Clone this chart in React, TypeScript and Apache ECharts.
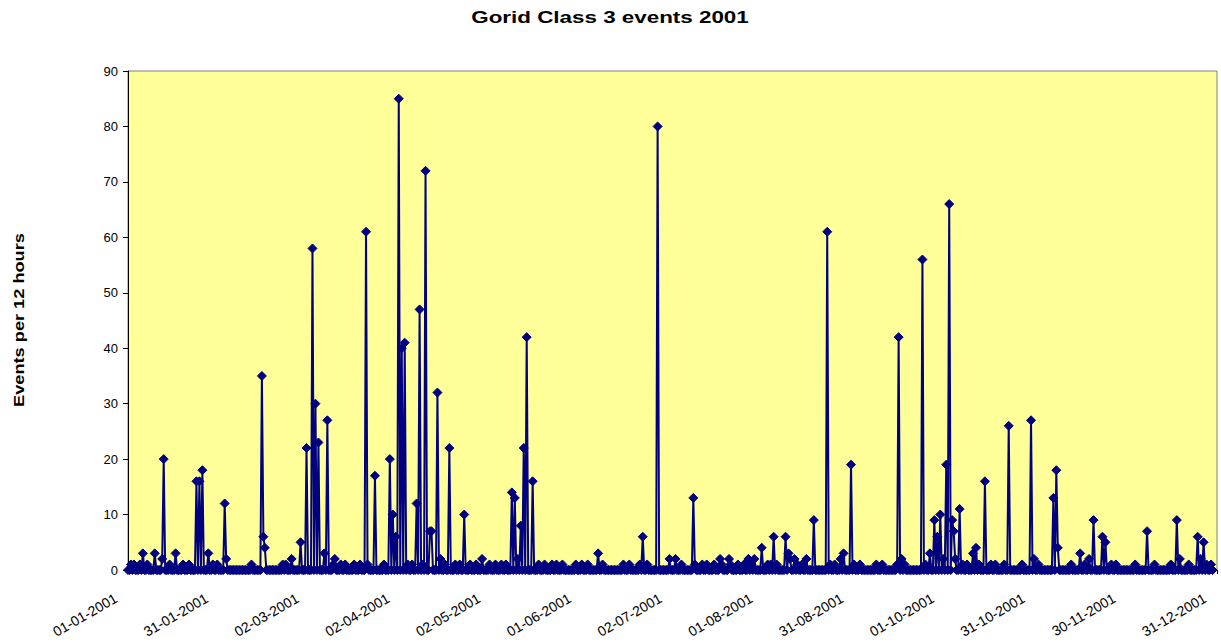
import React, { useEffect, useRef } from "react";
import * as echarts from "echarts";

// Number of 12-hour periods in 2001 (x axis index 0..729)
const periodCount = 730;

const chartTitle = "Gorid Class 3 events 2001";
const yAxisName = "Events per 12 hours";

// Tick labels of the x axis (one every 61 half-day periods)
const tickLabels = [
  "01-01-2001", "31-01-2001", "02-03-2001", "02-04-2001", "02-05-2001",
  "01-06-2001", "02-07-2001", "01-08-2001", "31-08-2001", "01-10-2001",
  "31-10-2001", "30-11-2001", "31-12-2001",
];

// Periods with more than one event: [period index, events]
const peaks: [number, number][] = [
  [10, 3], [18, 3], [23, 2], [24, 20], [32, 3], [46, 16], [48, 16], [50, 18],
  [54, 3], [65, 12], [66, 2], [90, 35], [91, 6], [92, 4], [110, 2], [116, 5],
  [120, 22], [124, 58], [126, 30], [128, 23], [132, 3], [134, 27], [139, 2],
  [160, 61], [166, 17], [176, 20], [178, 10], [180, 6], [182, 85], [184, 40],
  [186, 41], [194, 12], [196, 47], [200, 72], [203, 7], [204, 7], [208, 32],
  [210, 2], [216, 22], [226, 10], [238, 2], [258, 14], [260, 13], [262, 2],
  [264, 8], [266, 22], [268, 42], [272, 16], [316, 3], [346, 6], [356, 80],
  [364, 2], [368, 2], [380, 13], [398, 2], [404, 2], [417, 2], [421, 2],
  [426, 4], [434, 6], [442, 6], [444, 3], [445, 2], [448, 2], [456, 2],
  [461, 9], [470, 61], [479, 2], [481, 3], [486, 19], [518, 42], [520, 2],
  [534, 56], [539, 3], [542, 9], [544, 6], [546, 10], [548, 2], [550, 19],
  [552, 66], [554, 9], [555, 7], [556, 2], [559, 11], [568, 3], [570, 4],
  [576, 16], [592, 26], [607, 27], [609, 2], [622, 13], [624, 18], [625, 4],
  [640, 3], [646, 2], [649, 9], [655, 6], [657, 5], [685, 7], [705, 9],
  [707, 2], [719, 6], [721, 2], [723, 5],
];

// Periods with exactly one event
const singles: number[] = [
  2, 4, 8, 13, 28, 37, 41, 57, 60, 83, 104, 106, 138, 143, 146, 152, 156, 161,
  172, 188, 191, 198, 213, 220, 223, 230, 234, 243, 247, 251, 254, 276, 280,
  285, 288, 292, 301, 305, 309, 319, 333, 337, 344, 349, 372, 381, 386, 389,
  394, 399, 405, 410, 414, 419, 430, 432, 436, 450, 453, 472, 475, 488, 492,
  503, 507, 517, 522, 536, 561, 564, 572, 580, 583, 589, 601, 612, 634, 643,
  661, 664, 677, 690, 701, 713, 725, 728,
];

const yTicks = { min: 0, max: 90, interval: 10 };

export default function App() {
  const ref = useRef<HTMLDivElement>(null);

  useEffect(() => {
    if (!ref.current) return;
    const chart = echarts.init(ref.current, undefined, { renderer: "svg" });

    const values: number[] = new Array(periodCount).fill(0);
    singles.forEach((i) => (values[i] = 1));
    peaks.forEach(([i, v]) => (values[i] = v));
    const data = values.map((v, i) => [i, v]);

    const navy = "#000080";
    const font = "Liberation Sans, Arial, sans-serif";

    chart.setOption({
      animation: false,
      backgroundColor: "#ffffff",
      graphic: [
        {
          type: "text",
          x: 610,
          y: 17,
          scaleX: 1.4,
          style: {
            text: chartTitle,
            font: `bold 16px ${font}`,
            fill: "#000000",
            textAlign: "center",
            textVerticalAlign: "middle",
          },
        },
        {
          type: "text",
          x: 19,
          y: 320,
          rotation: Math.PI / 2,
          scaleX: 1.3,
          style: {
            text: yAxisName,
            font: `bold 14px ${font}`,
            fill: "#000000",
            textAlign: "center",
            textVerticalAlign: "middle",
          },
        },
      ],
      grid: {
        left: 128,
        right: 4,
        top: 71,
        bottom: 72,
        show: true,
        backgroundColor: "#FFFF99",
        borderColor: "#808080",
        borderWidth: 1,
      },
      xAxis: {
        type: "value",
        min: 0,
        max: 732,
        interval: 61,
        axisLine: { show: true, lineStyle: { color: "#000000", width: 1 } },
        axisTick: { show: true, length: 4, lineStyle: { color: "#000000" } },
        splitLine: { show: false },
        axisLabel: {
          rotate: 30,
          margin: 20,
          padding: [0, 14, 0, 0],
          fontFamily: font,
          fontSize: 14,
          color: "#000000",
          showMaxLabel: true,
          showMinLabel: true,
          formatter: (v: number) => tickLabels[Math.round(v / 61)] ?? "",
        },
      },
      yAxis: {
        type: "value",
        min: yTicks.min,
        max: yTicks.max,
        interval: yTicks.interval,
        axisLine: { show: true, lineStyle: { color: "#000000", width: 1 } },
        axisTick: { show: true, length: 5, lineStyle: { color: "#000000" } },
        splitLine: { show: false },
        axisLabel: {
          margin: 10,
          fontFamily: font,
          fontSize: 13,
          color: "#000000",
        },
      },
      series: [
        {
          type: "line",
          data,
          symbol: "diamond",
          symbolSize: 9,
          showAllSymbol: true,
          lineStyle: { color: navy, width: 2 },
          itemStyle: { color: navy, borderColor: navy },
          emphasis: { disabled: true },
          z: 3,
        },
      ],
    });

    return () => chart.dispose();
  }, []);

  return (
    <div
      ref={ref}
      style={{ position: "fixed", left: 0, top: 0, width: 1221, height: 642 }}
    />
  );
}
